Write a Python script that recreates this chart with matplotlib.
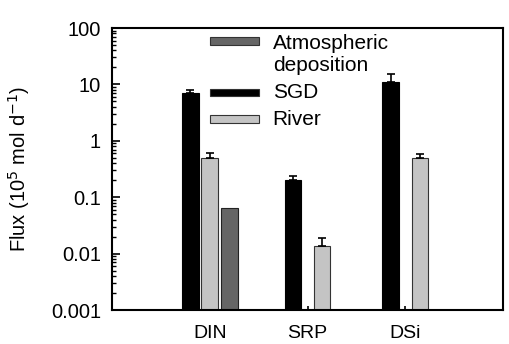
import matplotlib
matplotlib.use("Agg")
import matplotlib.pyplot as plt
from matplotlib.patches import Rectangle
from matplotlib.ticker import LogLocator, FixedLocator, NullFormatter, FixedFormatter
import numpy as np

plt.rcParams['font.family'] = ['Liberation Sans', 'DejaVu Sans']

categories = ["DIN", "SRP", "DSi"]
sgd = [7.1, 0.20, 11.2]
sgd_err = [0.8, 0.04, 3.9]
river = [0.49, 0.0136, 0.50]
river_err = [0.11, 0.005, 0.075]
atm = [0.064, None, None]
ytick_vals = [0.001, 0.01, 0.1, 1, 10, 100]
ytick_labels = ["0.001", "0.01", "0.1", "1", "10", "100"]

c_sgd = "#000000"
c_river = "#c4c4c4"
c_atm = "#666666"

fig = plt.figure(figsize=(5.10, 3.44), dpi=100)
ax = fig.add_axes([0.2196, 0.0988, 0.7667, 0.8198])

width = 0.17
ekw = dict(ecolor="black", elinewidth=1.2, capsize=3, capthick=1.2)
for i, cat in enumerate(categories):
    x = i + 1
    if atm[i] is not None:
        offs = (-0.2, 0.0, 0.2)
    else:
        offs = (-0.15, 0.15, None)
    ax.bar(x + offs[0], sgd[i], width, color=c_sgd, edgecolor="black", linewidth=0.8,
           yerr=[[0], [sgd_err[i]]], error_kw=ekw, zorder=2)
    ax.bar(x + offs[1], river[i], width, color=c_river, edgecolor="#333333", linewidth=0.8,
           yerr=[[0], [river_err[i]]], error_kw=ekw, zorder=2)
    if atm[i] is not None:
        ax.bar(x + offs[2], atm[i], width, color=c_atm, edgecolor="#222222", linewidth=0.8, zorder=2)

ax.set_yscale("log")
ax.set_ylim(0.001, 100)
ax.set_xlim(0, 4)
ax.yaxis.set_major_locator(FixedLocator(ytick_vals))
ax.yaxis.set_major_formatter(FixedFormatter(ytick_labels))
ax.yaxis.set_minor_locator(LogLocator(base=10, subs=np.arange(2, 10), numticks=20))
ax.yaxis.set_minor_formatter(NullFormatter())
ax.set_xticks([1, 2, 3])
ax.set_xticklabels(categories)
ax.tick_params(axis="y", which="major", direction="in", length=6, width=1.2, labelsize=14.5, pad=8)
ax.tick_params(axis="y", which="minor", direction="in", length=3, width=1.0)
ax.tick_params(axis="x", which="major", direction="in", length=3, width=1.2, labelsize=14, pad=11)
for s in ax.spines.values():
    s.set_linewidth(1.5)

ax.set_ylabel("Flux (10$^{5}$ mol d$^{-1}$)", fontsize=14.5)
ax.yaxis.set_label_coords(-0.205, 0.5)

# legend
leg = [("Atmospheric\ndeposition", c_atm, 0.954, 0.906), ("SGD", c_sgd, 0.771, 0.771),
       ("River", c_river, 0.677, 0.677)]
for label, col, yc, yt in leg:
    ax.add_patch(Rectangle((0.2506, yc - 0.013), 0.1253, 0.026, transform=ax.transAxes,
                           facecolor=col, edgecolor="#333333", linewidth=0.8, clip_on=False))
    ax.text(0.411, yt, label, transform=ax.transAxes, fontsize=15,
            va="center", ha="left", linespacing=1.15)

fig.savefig("out.png", dpi=100)
